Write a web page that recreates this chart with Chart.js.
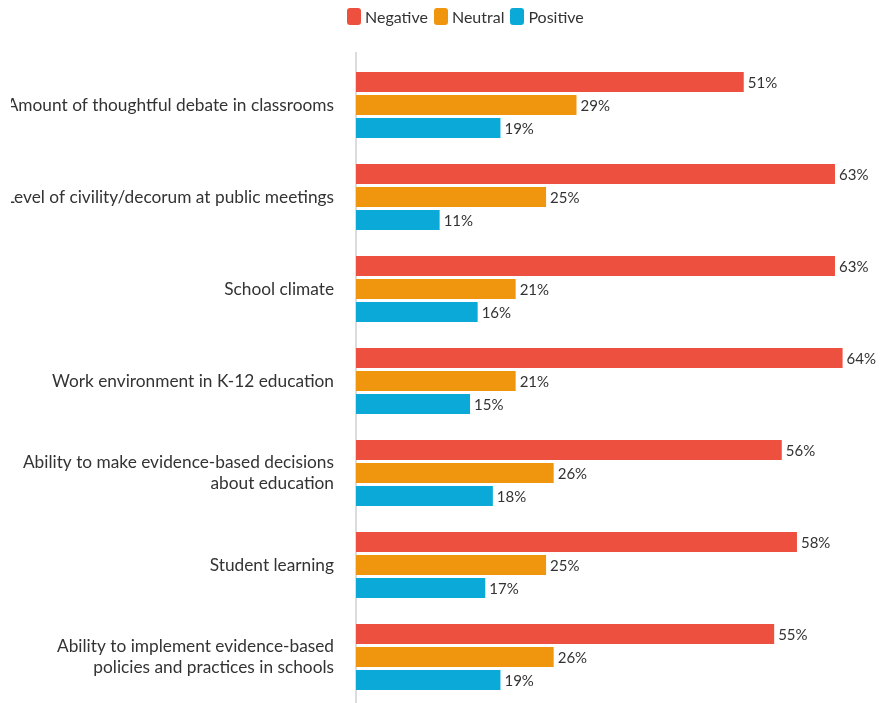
<!DOCTYPE html>
<html>
<head>
<meta charset="utf-8">
<script src="https://cdn.jsdelivr.net/npm/chart.js@4"></script>
<style>
  html, body { margin: 0; padding: 0; background: #fff; overflow: hidden; }
  #wrap { position: relative; width: 883px; height: 703px; }
  #legenda {
    position: absolute; top: 7px; left: 347px;
    display: flex; align-items: center;
    font: 16px Lato, 'Open Sans', sans-serif; color: #333;
  }
  #legenda span.item { display: flex; align-items: center; margin-right: 6px; }
  #legenda span.caixa { width: 14px; height: 17px; border-radius: 3px; margin-right: 4px; }
</style>
</head>
<body>
<div id="wrap">
  <div id="legenda"></div>
  <canvas id="barChart" width="883" height="703"></canvas>
</div>
<script>
// Categorias (rótulos do eixo Y)
const categorias = [
  "Amount of thoughtful debate in classrooms",
  "Level of civility/decorum at public meetings",
  "School climate",
  "Work environment in K-12 education",
  ["Ability to make evidence-based decisions", "about education"],
  "Student learning",
  ["Ability to implement evidence-based", "policies and practices in schools"]
];

// Valores por série (%)
const negativo = [51, 63, 63, 64, 56, 58, 55];
const neutro = [29, 25, 21, 21, 26, 25, 26];
const positivo = [19, 11, 16, 15, 18, 17, 19];

const cores = {
  negativo: "#EE5040",
  neutro: "#F0950E",
  positivo: "#0AA9D7"
};

const fonte = "Lato, 'Open Sans', sans-serif";

// Plugin simples para escrever o valor ao lado de cada barra
const rotulosValor = {
  id: "rotulosValor",
  beforeDatasetsDraw(chart) {
    // linha do eixo começa um pouco acima da área do gráfico
    const { ctx, chartArea } = chart;
    ctx.save();
    ctx.strokeStyle = "#dcdcdc";
    ctx.lineWidth = 2;
    ctx.beginPath();
    ctx.moveTo(chartArea.left, chartArea.top - 7);
    ctx.lineTo(chartArea.left, chartArea.top);
    ctx.stroke();
    ctx.restore();
  },
  afterDatasetsDraw(chart) {
    const ctx = chart.ctx;
    ctx.save();
    ctx.font = "15px " + fonte;
    ctx.fillStyle = "#333";
    ctx.textAlign = "left";
    ctx.textBaseline = "middle";
    chart.data.datasets.forEach((ds, i) => {
      chart.getDatasetMeta(i).data.forEach((bar, j) => {
        ctx.fillText(ds.data[j] + "%", bar.x + 4, bar.y + 1);
      });
    });
    ctx.restore();
  },
  // o original corta os rótulos muito longos na margem esquerda
  afterDraw(chart) {
    chart.ctx.clearRect(0, chart.chartArea.top, 11, chart.height);
  }
};

// Legenda em HTML (posição igual à do original)
function montarLegenda(datasets) {
  const el = document.getElementById("legenda");
  el.innerHTML = "";
  datasets.forEach(ds => {
    const item = document.createElement("span");
    item.className = "item";
    item.innerHTML = `<span class="caixa" style="background:${ds.backgroundColor}"></span>${ds.label}`;
    el.appendChild(item);
  });
}

function renderizarGrafico() {
  const ctx = document.getElementById("barChart").getContext("2d");
  const datasets = [
    { label: "Negative", data: negativo, backgroundColor: cores.negativo },
    { label: "Neutral", data: neutro, backgroundColor: cores.neutro },
    { label: "Positive", data: positivo, backgroundColor: cores.positivo }
  ];
  montarLegenda(datasets);

  new Chart(ctx, {
    type: "bar",
    data: { labels: categorias, datasets },
    options: {
      indexAxis: "y",
      responsive: false,
      animation: false,
      layout: { padding: { top: 59, right: 10, bottom: 0, left: 0 } },
      datasets: {
        bar: { categoryPercentage: 0.75, barPercentage: 0.87 }
      },
      plugins: {
        legend: { display: false },
        tooltip: { enabled: false }
      },
      scales: {
        x: {
          display: false,
          min: 0,
          max: 68
        },
        y: {
          grid: { display: false },
          border: { display: true, color: "#dcdcdc", width: 2 },
          ticks: {
            color: "#333",
            padding: 14,
            font: { family: fonte, size: 17.3, lineHeight: 1.25 }
          },
          afterFit(scale) {
            scale.width = 356;
            scale.paddingTop = 0;
            scale.paddingBottom = 0;
          }
        }
      }
    },
    plugins: [rotulosValor]
  });
}

document.addEventListener("DOMContentLoaded", renderizarGrafico);
</script>
</body>
</html>
